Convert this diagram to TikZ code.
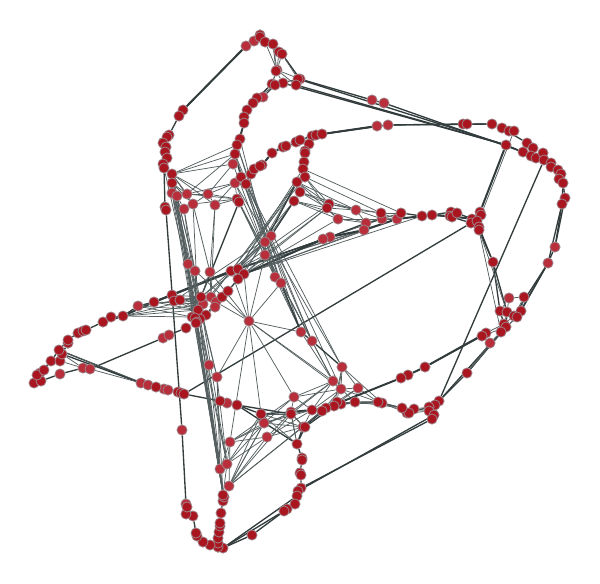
\documentclass[tikz,border=0pt]{standalone}
\usetikzlibrary{backgrounds}
\definecolor{hubred}{RGB}{170,22,32}
\definecolor{leafred}{RGB}{184,46,58}
\definecolor{rimgray}{RGB}{158,128,134}
\definecolor{linkgray}{RGB}{84,94,94}
\definecolor{heavygray}{RGB}{50,60,60}
\tikzset{
    hub/.style={circle, fill=hubred, draw=rimgray, line width=0.6pt, inner sep=0pt, minimum size=7.6pt},
    leaf/.style={hub, fill=leafred},
    heavy/.style={draw=heavygray, line width=1pt},
    bulk/.style={draw=heavygray, line width=1.5pt},
    wire/.style={draw=linkgray, line width=0.55pt}
}
\begin{document}
\begin{tikzpicture}[x=0.75pt, y=-0.75pt]
    \useasboundingbox (0,0) rectangle (600,583);
    % light nodes
    \foreach \name/\x/\y in {t1/246/46, t2/254/41, u1/263/97, u10/233/164, u12/235/183, l13/172/193, l14/177/196, l15/187/194,
        l16/193/204, l17/208/194, l18/215/205, l19/184/209, m3/338/219, m4/356/210, m6/382/219, m8/397/219, m9/366/223, m10/364/230,
        m24/330/237, m25/323/239, r1/372/100, r2/384/103, r3/377/126, r4/388/125, r27/555/247, r28/548/263, e1/509/298,
        e13/490/343, b10/294/397, b11/333/381, b12/341/389, b13/358/388, b14/342/367, b15/312/341, b16/301/332, b20/264/423,
        b21/267/437, b22/230/442, b25/227/403, d23/229/486, d24/220/469, d25/227/464, d33/186/504, d34/182/430, w3/40/373,
        w6/60/374, w24/83/368, w25/90/369, w26/141/383, w27/148/385, w29/164/389, w30/168/390, w34/163/338, w35/169/335,
        w19/138/306, c2/203/304, c3/211/297, c4/216/302, c5/215/307, c19/188/264, c20/195/271, c21/210/272, c22/249/321,
        c23/271/236, c24/265/242, c25/265/255, c26/275/277, c27/281/283, c28/209/365, c29/217/377}
        \node[leaf] (\name) at (\x,\y) {};
    % dark nodes
    \foreach \name/\x/\y in {t3/260/35, t4/260/37, t5/265/42, t6/273/44, t7/279/52, t8/282/54, t9/277/70, t10/276/71, t11/300/79,
        t12/298/79, t13/283/83, t14/296/85, t15/272/84, t16/275/85, u2/257/98, u3/253/103, u4/247/110, u5/244/117, u6/244/123,
        u7/240/139, u8/237/145, u9/235/154, u11/241/177, u13/246/184, u14/237/199, u15/239/202, l1/183/110, l2/179/116, l3/169/135,
        l4/167/137, l5/163/143, l6/166/147, l7/165/152, l8/167/158, l9/163/164, l10/164/168, l11/172/174, l12/172/183, l20/165/207,
        l21/166/210, p1/251/174, p2/254/169, p3/262/165, p4/260/166, p5/272/153, p6/283/147, p7/286/146, p8/296/142, p9/300/140,
        p10/312/136, p11/316/135, p12/322/134, p13/309/144, p14/305/151, p15/305/153, p16/304/162, p17/303/169, p18/305/177,
        p19/297/182, p20/300/192, p21/294/201, m1/329/204, m2/327/208, m5/381/213, m7/401/213, m11/422/216, m12/432/215, m13/451/212,
        m14/450/216, m15/452/217, m16/457/213, m17/472/219, m18/471/223, m19/480/212, m20/481/215, m21/477/221, m22/479/227,
        m23/479/230, r5/463/124, r6/467/124, r7/492/124, r8/502/128, r9/509/131, r10/514/131, r11/506/145, r12/527/143, r13/533/148,
        r14/523/152, r15/531/156, r16/536/158, r17/543/153, r18/544/160, r19/551/163, r20/551/167, r21/558/170, r22/561/174,
        r23/559/179, r24/563/183, r25/565/198, r26/562/204, r29/493/262, e2/524/297, e3/500/311, e4/507/312, e5/514/316, e6/521/311,
        e7/517/317, e8/504/324, e9/506/327, e10/501/332, e11/486/333, e12/482/336, e14/467/373, e15/439/401, e16/435/405, e17/429/407,
        e18/429/411, e19/434/415, e20/432/419, e21/414/409, e22/407/413, e23/409/413, e24/402/408, e25/382/403, e26/378/402,
        e27/425/367, e28/408/375, e29/401/378, b1/355/402, b2/341/404, b3/337/402, b4/334/406, b5/326/408, b6/322/411, b7/312/410,
        b8/291/412, b9/291/414, b17/303/427, b18/305/427, b19/297/444, b23/261/414, b24/237/405, b26/220/401, d1/302/458, d2/302/460,
        d3/300/473, d4/301/475, d5/301/488, d6/298/491, d7/297/496, d8/295/504, d9/287/509, d10/284/511, d11/252/535, d12/223/548,
        d13/218/547, d14/218/543, d15/218/538, d16/219/532, d17/220/526, d18/220/523, d19/221/513, d20/223/501, d21/224/497,
        d22/223/495, d26/210/545, d27/203/542, d28/197/536, d29/196/533, d30/193/516, d31/186/514, d32/187/507, w1/34/383, w2/41/381,
        w4/37/375, w5/44/370, w7/51/361, w8/60/361, w9/62/354, w10/59/350, w11/68/343, w12/68/340, w13/78/333, w14/83/331, w15/86/330,
        w16/103/322, w17/111/317, w18/123/316, w20/154/302, w21/172/295, w22/174/301, w23/180/300, w28/156/387, w31/178/392,
        w32/181/393, w33/184/394, w36/186/328, c1/201/297, c6/222/297, c7/228/291, c8/198/310, c9/206/315, c10/200/319, c11/192/317,
        c12/195/318, c13/197/322, c14/196/323, c15/231/271, c16/238/269, c17/244/274, c18/238/279}
        \node[hub] (\name) at (\x,\y) {};
    \begin{scope}[on background layer]
        % top loop and outer curves
        \draw[heavy] (t1) -- (l1) -- (l2) -- (l3) -- (l5) -- (l6) -- (l7) -- (l8) -- (l10) -- (l20) -- (l21) -- (d34) -- (d33) -- (d32) -- (d31) -- (d30) -- (d29) -- (d28) -- (d27) -- (d26) -- (d13);
        \draw[bulk] (t1) -- (l1);
        \draw[heavy] (t1) -- (t2) -- (t3) -- (t4) -- (t5) -- (t6) -- (t7) -- (t8) -- (t11);
        \draw[heavy] (t11) -- (r1) -- (r2) -- (r14) -- (r15) -- (r18);
        \draw[heavy] (t14) -- (r11) -- (r14);
        \draw[heavy] (t12) -- (r11);
        \draw[heavy] (t13) -- (r11);
        \draw[heavy] (t16) -- (u1) -- (u2) -- (u3) -- (u4) -- (u5) -- (u6) -- (u7) -- (u8) -- (u9) -- (u10);
        \draw[heavy] (u6) -- (u8);
        \draw[heavy] (u9) -- (u11);
        \draw[heavy] (t15) -- (u2);
        \foreach \from/\to in {t5/t9, t6/t9, t6/t10, t7/t9, t8/t9, t9/t14, t9/t11, t10/t13, t10/t15, t9/t15, t15/t11, t16/t12, t15/t14, t16/u2, t8/t12}
            \draw[wire] (\from) -- (\to);
        \draw[heavy] (p1) -- (p2) -- (p4) -- (p3) -- (p5) -- (p6) -- (p7) -- (p8) -- (p9) -- (p10) -- (p11) -- (p12) -- (r3) -- (r4) -- (r5) -- (r6) -- (r7) -- (r8) -- (r9) -- (r10);
        \draw[heavy] (p12) -- (r4) -- (r7);
        \draw[heavy] (p10) -- (p13) -- (p14) -- (p15) -- (p16) -- (p17) -- (p18);
        \draw[bulk] (p11) -- (r3);
        \draw[bulk] (p3) -- (p5) -- (p6);
        \draw[heavy] (r8) -- (r12) -- (r13) -- (r17) -- (r19) -- (r21) -- (r22) -- (r24) -- (r25) -- (r26) -- (r27) -- (r28) -- (e6);
        \draw[heavy] (r11) -- (r15) -- (r16) -- (r18) -- (r20) -- (r21) -- (r23) -- (r24) -- (r26) -- (r28) -- (e5);
        \draw[heavy] (r25) -- (r27);
        \draw[heavy] (r28) -- (e7);
        \draw[bulk] (r11) -- (m19);
        \draw[wire] (r10) -- (m20);
        \draw[heavy] (r18) -- (e15);
        \draw[heavy] (m18) -- (w33);
        \draw[heavy] (m23) -- (r29) -- (e3) -- (e8);
        \draw[heavy] (m22) -- (r29) -- (e4) -- (e9);
        \draw[wire] (m21) -- (e10);
        \draw[wire] (m23) -- (e4);
        % left wing
        \draw[heavy] (w1) -- (w2) -- (w5) -- (w7) -- (w8) -- (w9) -- (w11) -- (w12) -- (w13) -- (w14) -- (w15) -- (w16) -- (w17) -- (w18) -- (w19) -- (w20) -- (w21) -- (c15) -- (c16);
        \draw[heavy] (w3) -- (w7) -- (w10) -- (w12);
        \draw[heavy] (w4) -- (w2);
        \draw[bulk] (w16) -- (w18) -- (w20) -- (c16);
        \draw[bulk] (w20) -- (c15);
        \draw[heavy] (w2) -- (w6) -- (w24) -- (w25) -- (w34) -- (w35) -- (w36) -- (c14);
        \draw[heavy] (w9) -- (w26) -- (w27) -- (w28) -- (w29) -- (w30) -- (w31) -- (w32) -- (w33) -- (b26) -- (b25) -- (b24) -- (b23) -- (b8);
        \draw[heavy] (w10) -- (w26);
        \draw[wire] (w8) -- (w24);
        \draw[wire] (w25) -- (w26);
        \draw[wire] (w9) -- (w24);
        \draw[wire] (w10) -- (w27);
        \draw[heavy] (b24) -- (b19);
        \draw[heavy] (b24) -- (b9);
        % the rows through the middle
        \foreach \from/\to in {c16/m25, c16/m24, c17/m24, c17/m25, c15/m25, c17/m10, c16/m10, c17/m8, c16/m8, c15/m24, c17/m11, c16/m6}
            \draw[wire] (\from) -- (\to);
        \draw[bulk] (c17) -- (m25) -- (m24) -- (m10) -- (m8) -- (m11) -- (m12) -- (m14) -- (m17) -- (m21);
        \draw[heavy] (c16) -- (m24) -- (m9) -- (m6) -- (m8);
        \draw[heavy] (m7) -- (m11);
        \draw[heavy] (m12) -- (m13) -- (m16) -- (m17);
        \draw[heavy] (m12) -- (m15) -- (m18);
        \draw[wire] (m17) -- (m19);
        \draw[wire] (m20) -- (m21) -- (m22) -- (m23);
        % fan to the upper curve
        \foreach \from/\to in {p17/m7, p18/m1, p18/m2, p18/m5, p19/m1, p19/m3, p19/m4, p20/m4, p20/m1, p20/m2, p21/m2, p21/m9, p21/m3, m1/m4,
            m4/m5, m4/m9, m3/m9, m3/m6, m1/m5, m2/m4, m5/m7, m3/m8, m9/m7, m5/m8, m6/m7, m1/m2, m3/m2, m4/m6, m2/c17, m2/c25, m3/c17, m1/c16,
            c16/p19, c16/p21, c16/c24, c16/c23, c17/p19, c15/p19, c15/c24, c16/p17, c18/p21, c17/c25, c25/c24, c24/c23, c16/c25, c15/c23, c15/p18}
            \draw[wire] (\from) -- (\to);
        \draw[heavy] (c23) -- (p21);
        \draw[heavy] (c24) -- (p19);
        \draw[heavy] (u15) -- (c1);
        \draw[wire] (p19) -- (p20) -- (p21);
        % upper left cluster
        \foreach \from/\to in {l11/u10, l11/u9, l11/u8, l11/l15, l11/l16, l11/l17, l11/l18, l11/l14, l12/l16, l12/l15, l13/l14, l14/l15, l15/l17, l15/l16,
            l16/l17, l17/l18, l17/u10, l17/u12, l17/u14, l18/u12, l18/u14, l15/u9, l16/u14, l15/u12, l19/l14, l15/u14, l11/l12, l12/l13, l10/l11, l9/l11, u12/u14, u14/u15}
            \draw[wire] (\from) -- (\to);
        % long bundles down the picture
        \foreach \from/\to in {l12/c19, l13/c19, l14/c20, l11/c20, l19/c20, l10/c28, l11/c28, l12/c29, l13/c29, l14/d22, l11/d24, l12/d25, l13/d21, l14/d24,
            l19/d22, l11/d22, l12/d22, l16/c8, l16/c21, l18/c21, l18/c3, c19/c11, c20/c12, c28/d22, c29/d24, c29/d25, c29/d22, c8/d21, c14/d22, c13/d25,
            d24/d22, d25/d22, d24/d25, c19/d24, c20/d25, c21/c3, c21/c1}
            \draw[wire] (\from) -- (\to);
        \foreach \from/\to in {u9/c26, u8/c27, u7/c26, u10/c26, u8/b16, u9/b15, u12/b14, u13/b14, u13/b12, u14/b11, u15/b16, u11/b15, u12/b16, u14/c26, u13/c27, u15/b15, u11/c27}
            \draw[wire] (\from) -- (\to);
        \draw[heavy] (c26) -- (c27) -- (b16) -- (b15) -- (b14);
        \foreach \from/\to in {c27/b15, b15/b11, b16/b11, b14/b12, b14/b13, b14/b3, b11/b12, b12/b13, b13/e26, b13/b1, b12/b1, b14/e25, b12/e26, b14/b4}
            \draw[wire] (\from) -- (\to);
        % cluster beside the crossing
        \draw[heavy] (c18) -- (c7) -- (c6) -- (c4) -- (c9) -- (c10);
        \foreach \from/\to in {c7/c4, c6/c5, c5/c9, c1/c8, c2/c8, c3/c2, c3/c8, c8/c11, c8/c12, c8/c10, c12/c13, c11/c12, c13/c14, c10/c13, c9/c13, c1/c2,
            w18/c8, w18/c11, w18/c1, w18/c2, w19/c1, w19/c8, w19/c11, w20/c2, w20/c8, w21/c1, w21/c2, w22/c1, w22/c8, w23/c1, w23/c2, w23/c8, w22/c23, c1/c16, c1/c15, c3/c15, c2/c15}
            \draw[wire] (\from) -- (\to);
        % star
        \foreach \from/\to in {c22/c19, c22/c21, c22/c27, c22/c17, c22/c25, c22/c29, c22/b22, c22/b23, c22/b10, c22/b12, c22/b16, c22/b11, c22/c4, c22/c15}
            \draw[wire] (\from) -- (\to);
        % bottom right rows
        \draw[heavy] (e15) -- (e14) -- (e9);
        \draw[heavy] (e14) -- (e10);
        \draw[heavy] (e15) -- (e10);
        \draw[bulk] (e11) -- (e27) -- (e28) -- (e29) -- (b5) -- (b7) -- (b8);
        \draw[heavy] (e12) -- (e27);
        \draw[heavy] (b5) -- (b4) -- (b1) -- (e26) -- (e25) -- (e24) -- (e23) -- (e17) -- (e15);
        \draw[heavy] (b6) -- (b2) -- (b1);
        \draw[heavy] (b7) -- (b6) -- (b5);
        \draw[bulk] (b17) -- (b5);
        \draw[heavy] (b18) -- (b4);
        \draw[heavy] (b19) -- (b17);
        \draw[heavy] (b19) -- (b18);
        \draw[heavy] (b19) -- (d1) -- (d2) -- (d3) -- (d4) -- (d5) -- (d6) -- (d7) -- (d8) -- (d9) -- (d10) -- (d12);
        \draw[heavy] (d12) -- (d11) -- (d9);
        \draw[heavy] (d5) -- (e20);
        \draw[heavy] (d6) -- (e19);
        \draw[heavy] (d7) -- (d12);
        \draw[heavy] (d13) -- (d14) -- (d15) -- (d16) -- (d17) -- (d18) -- (d19) -- (d20) -- (d21) -- (d22);
        \draw[heavy] (d12) -- (d15);
        \draw[heavy] (d26) -- (d12);
        \draw[heavy] (d33) -- (d30);
        \foreach \from/\to in {e1/e3, e1/e4, e1/e2, e2/e5, e2/e6, e3/e4, e4/e5, e5/e6, e6/e7, e4/e8, e8/e9, e9/e10, e7/e10, e5/e8, e8/e11, e9/e12, e10/e13, e13/e14, e9/e14, e11/e12,
            e7/e9, e16/e17, e17/e18, e18/e19, e19/e20, e15/e16, e16/e19, e21/e22, e22/e23, e24/e22, e21/e18, e21/e17, e23/e18, e26/e24, e25/e22, b3/e26, b2/e25, b1/e24}
            \draw[wire] (\from) -- (\to);
        % net above the bottom loop
        \foreach \from/\to in {b10/b8, b10/b7, b10/b12, b10/b11, b10/b20, b10/b22, b11/b7, b11/b8, b11/b9, b12/b6, b12/b7, b13/b4, b13/b6, b20/b22, b20/d25, b20/d23,
            b21/b22, b21/d23, b21/d25, b21/b8, b21/b17, b22/b8, b22/d23, b22/d25, b22/d24, d23/b23, d23/b9, d23/b17, d23/b6, d25/b23, d23/b20, b20/b17, b23/b17, b8/b19, b23/b19, b9/b19, b8/b17, b9/b18, b9/b7,
            b23/b9, b20/b23, b20/b7, b21/b7, b20/b9, b7/b17}
            \draw[wire] (\from) -- (\to);
    \end{scope}
\end{tikzpicture}
\end{document}
